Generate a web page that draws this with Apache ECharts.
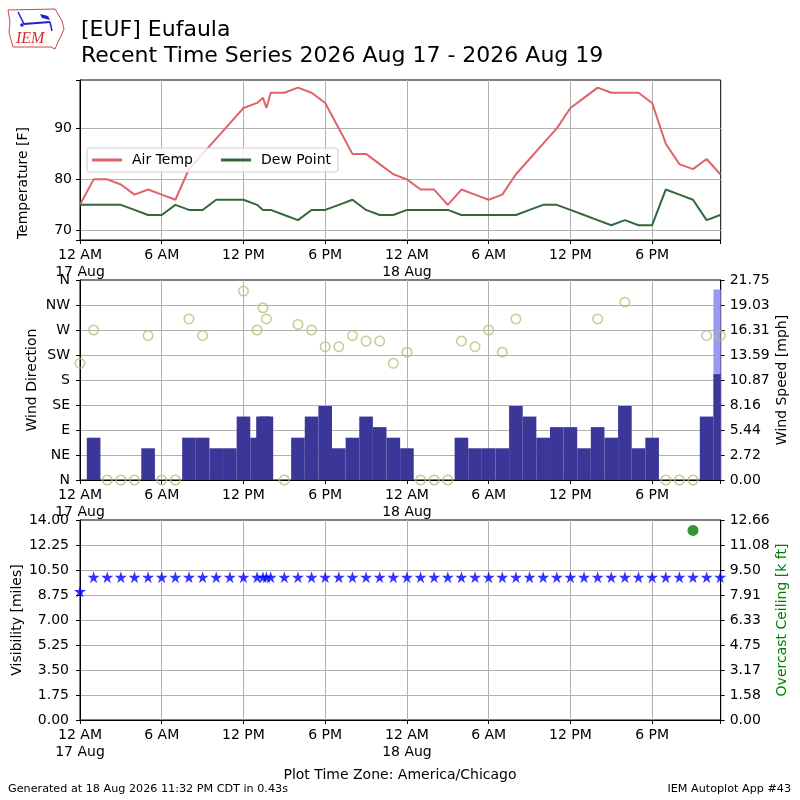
<!DOCTYPE html>
<html>
<head>
<meta charset="utf-8">
<script src="https://cdn.jsdelivr.net/npm/echarts@6/dist/echarts.min.js"></script>
<style>
html, body { margin: 0; padding: 0; background: #fff; }
#main { width: 800px; height: 800px; }
</style>
</head>
<body>
<div id="main"></div>
<script>
// observation times (local, America/Chicago)
var obsTimes = [
  '08-17 00:00', '08-17 01:00', '08-17 02:00', '08-17 03:00', '08-17 04:00', '08-17 05:00',
  '08-17 06:00', '08-17 07:00', '08-17 08:00', '08-17 09:00', '08-17 10:00', '08-17 11:00',
  '08-17 12:00', '08-17 13:00', '08-17 13:26', '08-17 13:41', '08-17 14:00', '08-17 15:00',
  '08-17 16:00', '08-17 17:00', '08-17 18:00', '08-17 19:00', '08-17 20:00', '08-17 21:00',
  '08-17 22:00', '08-17 23:00', '08-18 00:00', '08-18 01:00', '08-18 02:00', '08-18 03:00',
  '08-18 04:00', '08-18 05:00', '08-18 06:00', '08-18 07:00', '08-18 08:00', '08-18 09:00',
  '08-18 10:00', '08-18 11:00', '08-18 12:00', '08-18 13:00', '08-18 14:00', '08-18 15:00',
  '08-18 16:00', '08-18 17:00', '08-18 18:00', '08-18 19:00', '08-18 20:00', '08-18 21:00',
  '08-18 22:00', '08-18 23:00'
];
var airTemp = [75, 80, 80, 79, 77, 78, 77, 76, 82, 85, 88, 91, 94, 95, 96, 94, 97, 97, 98, 97,
  95, 90, 85, 85, 83, 81, 80, 78, 78, 75, 78, 77, 76, 77, 81, 84, 87, 90, 94, 96,
  98, 97, 97, 97, 95, 87, 83, 82, 84, 81];
var dewPoint = [75, 75, 75, 75, 74, 73, 73, 75, 74, 74, 76, 76, 76, 75, 74, 74, 74, 73, 72, 74,
  74, 75, 76, 74, 73, 73, 74, 74, 74, 74, 73, 73, 73, 73, 73, 74, 75, 75, 74, 73,
  72, 71, 72, 71, 71, 78, 77, 76, 72, 73];
var windDir = [210, 270, 0, 0, 0, 260, 0, 0, 290, 260, null, null, 340, 270, 310, 290, null, 0, 280, 270,
  240, 240, 260, 250, 250, 210, 230, 0, 0, 0, 250, 240, 270, 230, 290, null, null, null, null, null,
  290, null, 320, null, null, 0, 0, 0, 260, 260];
var windSpeed = [0, 4.6, 0, 0, 0, 3.45, 0, 0, 4.6, 4.6, 3.45, 3.45, 6.9, 4.6, 6.9, 6.9, null, 0, 4.6, 6.9,
  8.06, 3.45, 4.6, 6.9, 5.75, 4.6, 3.45, 0, 0, 0, 4.6, 3.45, 3.45, 3.45, 8.06, 6.9, 4.6, 5.75, 5.75, 3.45,
  5.75, 4.6, 8.06, 3.45, 4.6, 0, 0, 0, 6.9, 11.51];
var windGust = [null, null, null, null, null, null, null, null, null, null, null, null, null, null, null, null, null, null, null, null,
  null, null, null, null, null, null, null, null, null, null, null, null, null, null, null, null, null, null, null, null,
  null, null, null, null, null, null, null, null, null, 20.71];
var visibility = [9, 10, 10, 10, 10, 10, 10, 10, 10, 10, 10, 10, 10, 10, 10, 10, 10, 10, 10, 10,
  10, 10, 10, 10, 10, 10, 10, 10, 10, 10, 10, 10, 10, 10, 10, 10, 10, 10, 10, 10,
  10, 10, 10, 10, 10, 10, 10, 10, 10, 10];
var ceiling = [null, null, null, null, null, null, null, null, null, null, null, null, null, null, null, null, null, null, null, null,
  null, null, null, null, null, null, null, null, null, null, null, null, null, null, null, null, null, null, null, null,
  null, null, null, null, null, null, null, 12.0, null, null];
var dirLabels = ['N', 'NE', 'E', 'SE', 'S', 'SW', 'W', 'NW', 'N'];
var axisStart = '08-17 00:00';
var axisEnd = '08-18 23:02';
var tempMin = 68.1, tempMax = 99.5;
var speedMax = 21.749;
var visMax = 14;
var ceilMax = 12.663;

var FONT = 'DejaVu Sans';
var FS = 14;

function toHours(s) {
  var day = parseInt(s.substr(3, 2), 10);
  var hh = parseInt(s.substr(6, 2), 10);
  var mm = parseInt(s.substr(9, 2), 10);
  return (day - 17) * 24 + hh + mm / 60;
}
var hours = obsTimes.map(toHours);
var endHour = toHours(axisEnd);

function pairs(vals) {
  var out = [];
  for (var i = 0; i < vals.length; i++) {
    out.push([hours[i], vals[i]]);
  }
  return out;
}

function fmtTime(v) {
  var h = Math.round(v * 100) / 100;
  if (h % 6 !== 0) return '';
  var hod = h % 24;
  var txt;
  if (hod === 0) txt = '12 AM';
  else if (hod === 12) txt = '12 PM';
  else if (hod < 12) txt = hod + ' AM';
  else txt = (hod - 12) + ' PM';
  if (hod === 0) txt += '\n' + (17 + h / 24) + ' Aug';
  return txt;
}

function timeAxis(gi) {
  return {
    type: 'value', gridIndex: gi, min: 0, max: endHour, interval: 6,
    axisLine: { lineStyle: { color: '#000', width: 1 } },
    axisTick: { length: 4, lineStyle: { color: '#000' } },
    axisLabel: { formatter: fmtTime, color: '#000', fontSize: FS, fontFamily: FONT, lineHeight: 17, margin: 7 },
    splitLine: { show: true, showMinLine: false, showMaxLine: false, lineStyle: { color: '#b0b0b0', width: 1 } }
  };
}

function valAxis(gi, pos, min, max, interval, fmt, margin, grid) {
  var ax = {
    type: 'value', gridIndex: gi, position: pos, min: min, max: max,
    axisLine: { show: true, lineStyle: { color: '#000', width: 1 } },
    axisTick: { show: true, length: 4, lineStyle: { color: '#000' } },
    axisLabel: { formatter: fmt, color: '#000', fontSize: FS, fontFamily: FONT, margin: margin },
    splitLine: { show: grid, showMinLine: false, showMaxLine: false, lineStyle: { color: '#b0b0b0', width: 1 } }
  };
  if (interval) ax.interval = interval; else ax.splitNumber = 3;
  return ax;
}

function barRenderer(color) {
  return function (params, api) {
    var x = api.value(0), v = api.value(1);
    if (v == null || isNaN(v) || v <= 0) return null;
    var p0 = api.coord([x - 0.5, v]);
    var p1 = api.coord([x + 0.5, 0]);
    var cs = params.coordSys;
    var rect = echarts.graphic.clipRectByRect(
      { x: p0[0], y: p0[1], width: p1[0] - p0[0], height: p1[1] - p0[1] },
      { x: cs.x, y: cs.y, width: cs.width, height: cs.height });
    return rect && { type: 'rect', shape: rect, style: { fill: color } };
  };
}

var starPath = 'path://M50,0 L61,35 L98,35 L68,57 L79,91 L50,70 L21,91 L32,57 L2,35 L39,35 Z';

var chart = echarts.init(document.getElementById('main'));
var option = {
  animation: false,
  backgroundColor: '#fff',
  textStyle: { fontFamily: FONT },
  grid: [
    { left: 80, top: 80, width: 640.7, height: 160, show: true, borderColor: '#000', borderWidth: 1 },
    { left: 80, top: 280, width: 640.7, height: 200, show: true, borderColor: '#000', borderWidth: 1 },
    { left: 80, top: 520, width: 640.7, height: 200, show: true, borderColor: '#000', borderWidth: 1 }
  ],
  xAxis: [timeAxis(0), timeAxis(1), timeAxis(2)],
  yAxis: [
    valAxis(0, 'left', tempMin, tempMax, null, function (v) {
      return Math.abs(v % 10) < 1e-6 ? String(v) : '';
    }, 8, true),
    valAxis(1, 'left', 0, 360, 45, function (v) { return dirLabels[Math.round(v / 45)]; }, 10, true),
    valAxis(1, 'right', 0, speedMax, speedMax / 8, function (v) { return v.toFixed(2); }, 9, false),
    valAxis(2, 'left', 0, visMax, visMax / 8, function (v) { return v.toFixed(2); }, 11, true),
    valAxis(2, 'right', 0, ceilMax, ceilMax / 8, function (v) { return v.toFixed(2); }, 9, false)
  ],
  legend: {
    data: ['Air Temp', 'Dew Point'],
    left: 87, top: 148,
    icon: 'rect',
    itemWidth: 30, itemHeight: 3, itemGap: 28,
    padding: [4, 7, 4, 5],
    backgroundColor: 'rgba(255,255,255,0.8)',
    borderColor: '#cccccc', borderWidth: 1, borderRadius: 3,
    textStyle: { fontSize: FS, fontFamily: FONT, color: '#000', padding: [0, 0, 0, 5], lineHeight: 16 }
  },
  series: [
    {
      name: 'Air Temp', type: 'line', xAxisIndex: 0, yAxisIndex: 0, data: pairs(airTemp),
      symbol: 'none', color: '#e0636a', lineStyle: { color: '#e0636a', width: 2 }, z: 3
    },
    {
      name: 'Dew Point', type: 'line', xAxisIndex: 0, yAxisIndex: 0, data: pairs(dewPoint),
      symbol: 'none', color: '#33693a', lineStyle: { color: '#33693a', width: 2 }, z: 3
    },
    {
      name: 'Gust', type: 'custom', xAxisIndex: 1, yAxisIndex: 2, data: pairs(windGust),
      renderItem: barRenderer('#9a9af2'), z: 2
    },
    {
      name: 'Wind Speed', type: 'custom', xAxisIndex: 1, yAxisIndex: 2, data: pairs(windSpeed),
      renderItem: barRenderer('#3a3798'), z: 2
    },
    {
      name: 'Wind Direction', type: 'scatter', xAxisIndex: 1, yAxisIndex: 1, data: pairs(windDir),
      symbol: 'circle', symbolSize: 9.5, clip: false,
      itemStyle: { color: 'rgba(0,0,0,0)', borderColor: '#bdbd76', borderWidth: 1.5 }, z: 4
    },
    {
      name: 'Visibility', type: 'scatter', xAxisIndex: 2, yAxisIndex: 3, data: pairs(visibility),
      symbol: starPath, symbolSize: 12, itemStyle: { color: '#0000ff' }, z: 4
    },
    {
      name: 'Overcast Ceiling', type: 'scatter', xAxisIndex: 2, yAxisIndex: 4, data: pairs(ceiling),
      symbol: 'circle', symbolSize: 11, itemStyle: { color: '#007a00' }, z: 4
    }
  ],
  graphic: [
    // IEM logo (simplified)
    { type: 'polyline', shape: { points: [[8, 10], [55, 9], [58, 14], [62, 21], [64, 29], [61, 36], [58, 42], [55, 49], [51, 47], [13, 47], [11, 40], [9, 32], [10, 22], [8, 10]] },
      style: { stroke: '#d04545', fill: null, lineWidth: 1 } },
    { type: 'line', shape: { x1: 24, y1: 24, x2: 50, y2: 22 }, style: { stroke: '#2222cc', lineWidth: 2 } },
    { type: 'line', shape: { x1: 18, y1: 12, x2: 24, y2: 24 }, style: { stroke: '#2222cc', lineWidth: 1.5 } },
    { type: 'polygon', shape: { points: [[40, 14], [48, 16], [50, 20], [42, 18]] }, style: { fill: '#2222cc' } },
    { type: 'line', shape: { x1: 50, y1: 22, x2: 52, y2: 31 }, style: { stroke: '#2222cc', lineWidth: 1.5 } },
    { type: 'circle', shape: { cx: 22, cy: 25, r: 1.8 }, style: { fill: '#2222cc' } },
    { type: 'text', x: 16, y: 39, style: { text: 'IEM', font: 'italic 16px "Liberation Serif"', fill: '#d03030', verticalAlign: 'middle' } },
    // titles
    { type: 'text', x: 81, y: 30, style: { text: '[EUF] Eufaula', font: '22px "DejaVu Sans"', fill: '#000', verticalAlign: 'middle' } },
    { type: 'text', x: 81, y: 56.5, style: { text: 'Recent Time Series 2026 Aug 17 - 2026 Aug 19', font: '22px "DejaVu Sans"', fill: '#000', verticalAlign: 'middle' } },
    // axis names
    { type: 'text', x: 23, y: 183, rotation: Math.PI / 2, style: { text: 'Temperature [F]', font: FS + 'px "DejaVu Sans"', fill: '#000', align: 'center', verticalAlign: 'middle' } },
    { type: 'text', x: 32.5, y: 380, rotation: Math.PI / 2, style: { text: 'Wind Direction', font: FS + 'px "DejaVu Sans"', fill: '#000', align: 'center', verticalAlign: 'middle' } },
    { type: 'text', x: 782, y: 380, rotation: Math.PI / 2, style: { text: 'Wind Speed [mph]', font: FS + 'px "DejaVu Sans"', fill: '#000', align: 'center', verticalAlign: 'middle' } },
    { type: 'text', x: 17.5, y: 620, rotation: Math.PI / 2, style: { text: 'Visibility [miles]', font: FS + 'px "DejaVu Sans"', fill: '#000', align: 'center', verticalAlign: 'middle' } },
    { type: 'text', x: 782, y: 620, rotation: Math.PI / 2, style: { text: 'Overcast Ceiling [k ft]', font: FS + 'px "DejaVu Sans"', fill: '#008000', align: 'center', verticalAlign: 'middle' } },
    // footer
    { type: 'text', x: 400, y: 775, style: { text: 'Plot Time Zone: America/Chicago', font: FS + 'px "DejaVu Sans"', fill: '#000', align: 'center', verticalAlign: 'middle' } },
    { type: 'text', x: 8, y: 789.5, style: { text: 'Generated at 18 Aug 2026 11:32 PM CDT in 0.43s', font: '11.2px "DejaVu Sans"', fill: '#000', verticalAlign: 'middle' } },
    { type: 'text', x: 791, y: 789.5, style: { text: 'IEM Autoplot App #43', font: '11.2px "DejaVu Sans"', fill: '#000', align: 'right', verticalAlign: 'middle' } }
  ]
};
chart.setOption(option);
</script>
</body>
</html>
